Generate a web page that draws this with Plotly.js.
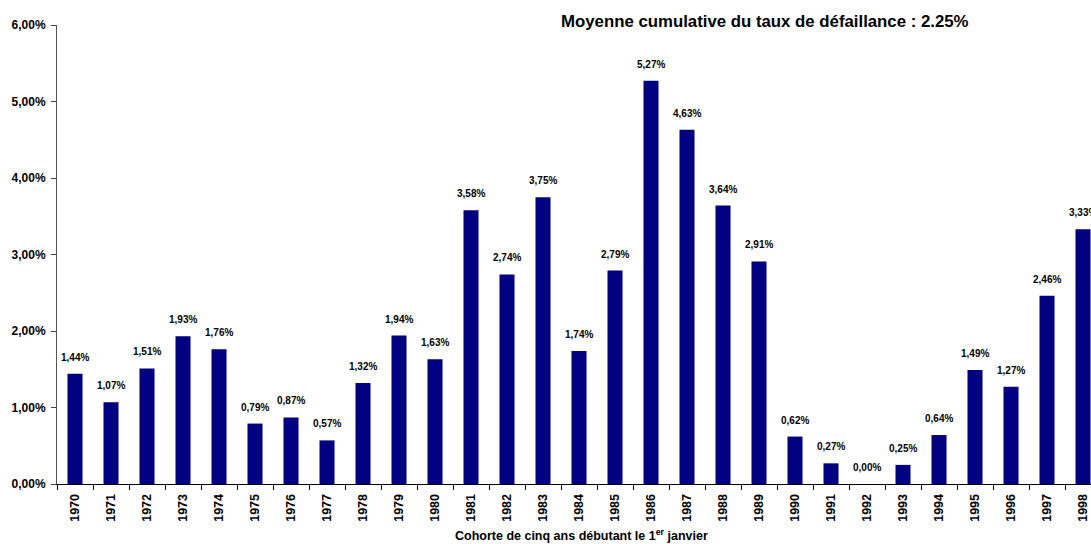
<!DOCTYPE html>
<html>
<head>
<meta charset="utf-8">
<script src="https://cdn.plot.ly/plotly-3.0.1.min.js"></script>
<style>html,body{margin:0;padding:0;background:#fff;}#chart{width:1091px;height:544px;}</style>
</head>
<body>
<div id="chart"></div>
<script>
const years = ["1970","1971","1972","1973","1974","1975","1976","1977","1978","1979","1980","1981","1982","1983","1984","1985","1986","1987","1988","1989","1990","1991","1992","1993","1994","1995","1996","1997","1998"];
const rates = [1.44,1.07,1.51,1.93,1.76,0.79,0.87,0.57,1.32,1.94,1.63,3.58,2.74,3.75,1.74,2.79,5.27,4.63,3.64,2.91,0.62,0.27,0.00,0.25,0.64,1.49,1.27,2.46,3.33];
const yTicks = [0,1,2,3,4,5,6];
const titleText = "Moyenne cumulative du taux de défaillance : 2.25%";
const xTitleText = "Cohorte de cinq ans débutant le 1<sup>er</sup> janvier";

const fmt = v => v.toFixed(2).replace('.', ',') + '%';
const font = "Liberation Sans, Arial, sans-serif";

const trace = {
  type: 'bar',
  x: years,
  y: rates,
  marker: {color: '#000080', line: {width: 0}},
  hoverinfo: 'none'
};

const labelAnns = years.map((yr, i) => ({
  x: i, y: rates[i], xref: 'x', yref: 'y',
  text: '<b>' + fmt(rates[i]) + '</b>',
  showarrow: false, yanchor: 'bottom', yshift: 9,
  font: {family: font, size: 10, color: '#000'}
}));

const layout = {
  width: 1091, height: 544,
  margin: {l: 57, r: 0, t: 25, b: 60},
  paper_bgcolor: '#fff', plot_bgcolor: '#fff',
  showlegend: false,
  bargap: 0.583,
  font: {family: font, color: '#000'},
  xaxis: {
    type: 'category',
    range: [-0.5, 28.222],
    tickson: 'boundaries',
    tickvals: years,
    ticktext: years.map(y => '<b>' + y + '</b>'),
    ticks: 'outside', ticklen: 5, tickcolor: '#000', tickwidth: 1,
    tickangle: -90,
    ticklabelstandoff: 4,
    tickfont: {family: font, size: 12.5, color: '#000'},
    showline: true, linecolor: '#000', linewidth: 1,
    showgrid: false, zeroline: false, fixedrange: true
  },
  yaxis: {
    range: [0, 6],
    tickvals: yTicks,
    ticktext: yTicks.map(v => '<b>' + fmt(v) + '</b>'),
    ticks: 'outside', ticklen: 5, tickcolor: '#444',
    tickfont: {family: font, size: 12, color: '#000'},
    ticklabelstandoff: 3,
    showline: true, linecolor: '#555', linewidth: 1,
    showgrid: false, zeroline: false, fixedrange: true
  },
  annotations: labelAnns.concat([
    {xref: 'paper', yref: 'paper', x: (765 - 57) / 1034, y: 1 + 4 / 459, xanchor: 'center', yanchor: 'middle',
     text: '<b>' + titleText + '</b>', showarrow: false,
     font: {family: font, size: 16.8, color: '#000'}},
    {xref: 'paper', yref: 'paper', x: (581 - 57) / 1034, y: -(535 - 484) / 459, xanchor: 'center', yanchor: 'middle',
     text: '<b>' + xTitleText + '</b>', showarrow: false,
     font: {family: font, size: 12.5, color: '#000'}}
  ])
};

Plotly.newPlot('chart', [trace], layout, {displayModeBar: false, staticPlot: true});
</script>
</body>
</html>
